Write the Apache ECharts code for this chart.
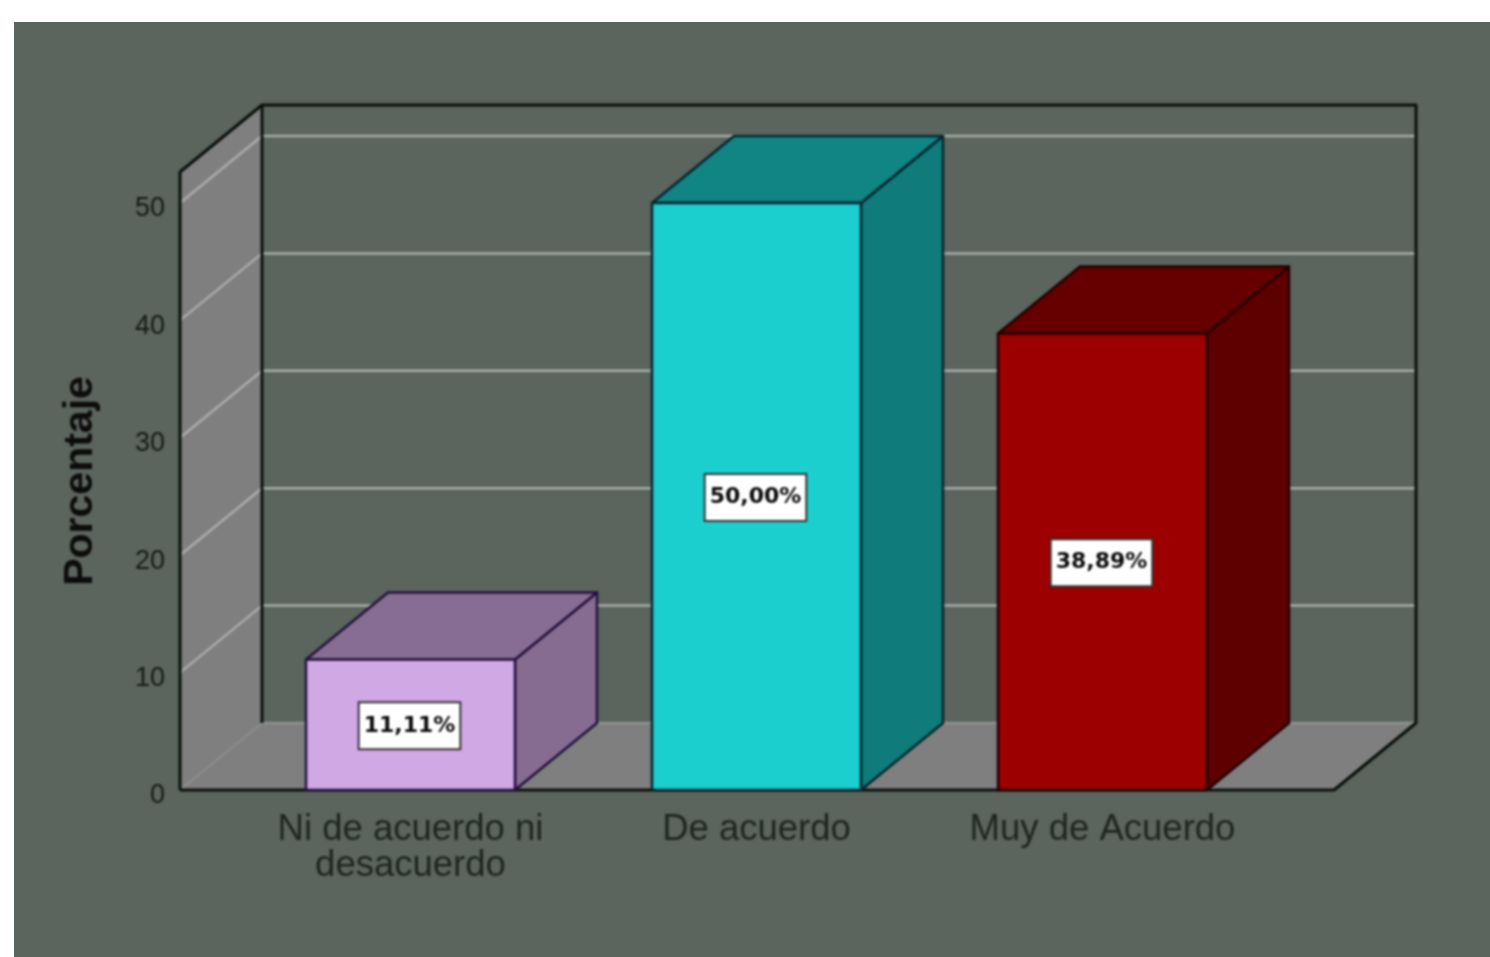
<!DOCTYPE html>
<html>
<head>
<meta charset="utf-8">
<style>
html,body{margin:0;padding:0;background:#fff;overflow:hidden}
#panel{position:absolute;left:14px;top:22px;right:0;bottom:0;background:#5b645d}
#chart{position:absolute;left:0;top:0;width:1490px;height:957px;filter:blur(0.9px)}
</style>
<script src="https://cdn.jsdelivr.net/npm/echarts@6/dist/echarts.min.js"></script>
</head>
<body>
<div id="panel"></div>
<div id="chart"></div>
<script>
const categories = ['Ni de acuerdo ni\ndesacuerdo', 'De acuerdo', 'Muy de Acuerdo'];
const percentages = [11.11, 50.00, 38.89];
const yTicks = [0, 10, 20, 30, 40, 50];
const yMax = 52.64;
const frontColors = ['#cfa8e4', '#1ccfcf', '#9c0000'];
const topColors = ['#876d93', '#108584', '#660000'];
const sideColors = ['#866c90', '#0f7c7b', '#5e0000'];
const edgeColors = ['#24123e', '#02262e', '#220000'];

const DX = 82, DY = -67;
const WALL = '#7f7f7f', FRAME = '#0a100d', GRIDLINE = '#a9ada9', BARFRAC = 0.604;
const LEFT_EXT = 57.5, RIGHT_EXT = 58.5;

function poly(points, fill, stroke, lw) {
  return {type: 'polygon', shape: {points}, style: {fill, stroke: stroke || 'none', lineWidth: lw || 0, lineJoin: 'round'}};
}
function line(pts, stroke, lw) {
  return {type: 'polyline', shape: {points: pts}, style: {fill: 'none', stroke, lineWidth: lw, lineJoin: 'round'}};
}

function renderFrame(params, api) {
  const cs = params.coordSys;
  const xL = cs.x - LEFT_EXT, xR = cs.x + cs.width + RIGHT_EXT;
  const y0 = api.coord([0, 0])[1], yT = api.coord([0, yMax])[1];
  const c = [];
  c.push(poly([[xL, yT], [xL + DX, yT + DY], [xL + DX, y0 + DY], [xL, y0]], WALL));
  c.push(poly([[xL, y0], [xL + DX, y0 + DY], [xR + DX, y0 + DY], [xR, y0]], WALL));
  yTicks.forEach(t => {
    const y = api.coord([0, t])[1];
    if (t === 0) {
      c.push(line([[xL, y], [xL + DX, y + DY]], '#8f938f', 1.5));
      c.push(line([[xL + DX, y + DY], [xR + DX, y + DY]], '#8f938f', 2.5));
    } else {
      c.push(line([[xL, y], [xL + DX, y + DY], [xR + DX, y + DY]], GRIDLINE, 2.5));
    }
  });
  c.push(line([[xL, y0], [xL, yT], [xL + DX, yT + DY], [xR + DX, yT + DY], [xR + DX, y0 + DY], [xR, y0], [xL, y0]], FRAME, 3));
  c.push(line([[xL + DX, yT + DY], [xL + DX, y0 + DY]], FRAME, 3));
  return {type: 'group', children: c};
}

function renderBar(params, api) {
  const i = params.dataIndex;
  const base = api.coord([i, 0]), top = api.coord([i, api.value(1)]);
  const w = api.size([1, 0])[0] * BARFRAC;
  const l = base[0] - w / 2, r = base[0] + w / 2, b = base[1], t = top[1];
  const e = edgeColors[i], lw = 2.5;
  const v = api.value(1).toFixed(2).replace('.', ',') + '%';
  return {type: 'group', children: [
    poly([[r, b], [r + DX, b + DY], [r + DX, t + DY], [r, t]], sideColors[i], e, lw),
    poly([[l, t], [l + DX, t + DY], [r + DX, t + DY], [r, t]], topColors[i], e, lw),
    poly([[l, b], [l, t], [r, t], [r, b]], frontColors[i], e, lw),
    {type: 'text', z2: 10, style: {
      text: v, x: (l + r) / 2 - 1, y: (t + b) / 2 + 1, align: 'center', verticalAlign: 'middle',
      fontFamily: 'DejaVu Sans', fontWeight: 'bold', fontSize: 22, fill: '#0c0c0c',
      backgroundColor: '#fff', borderColor: '#333', borderWidth: 2, padding: [15, 4, 8, 4]
    }}
  ]};
}

const chart = echarts.init(document.getElementById('chart'), null, {renderer: 'canvas'});
chart.setOption({
  animation: false,
  backgroundColor: 'transparent',
  grid: {left: 237.5, width: 1038, top: 172, bottom: 167},
  xAxis: {
    type: 'category', data: categories,
    axisLine: {show: false}, axisTick: {show: false}, splitLine: {show: false},
    axisLabel: {interval: 0, fontFamily: 'Liberation Sans', fontSize: 36.5, lineHeight: 36, color: '#1e2520', margin: 22, hideOverlap: false}
  },
  yAxis: {
    type: 'value', min: 0, max: yMax, offset: LEFT_EXT,
    name: 'Porcentaje', nameLocation: 'middle', nameGap: 79, nameRotate: 90,
    nameTextStyle: {fontFamily: 'Liberation Sans', fontWeight: 'bold', fontSize: 41, color: '#0c0c0c'},
    axisLine: {show: false}, axisTick: {show: false}, splitLine: {show: false},
    axisLabel: {customValues: yTicks, fontFamily: 'Liberation Sans', fontSize: 27, color: '#141a16', margin: 15, verticalAlign: 'top', lineHeight: 12}
  },
  series: [
    {type: 'custom', coordinateSystem: 'cartesian2d', silent: true, z: 1, renderItem: renderFrame, data: [[0, 0]]},
    {type: 'custom', coordinateSystem: 'cartesian2d', silent: true, z: 2, renderItem: renderBar,
     encode: {x: 0, y: 1}, data: percentages.map((v, i) => [i, v])}
  ]
});
</script>
</body>
</html>
